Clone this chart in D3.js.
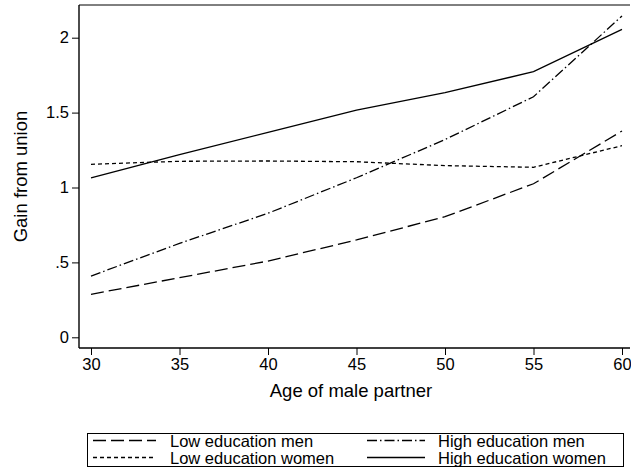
<!DOCTYPE html>
<html><head><meta charset="utf-8">
<script src="https://cdn.jsdelivr.net/npm/d3@7"></script>
<style>body{margin:0;background:#fff;} text{font-family:"Liberation Sans",Arial,sans-serif;fill:#000;}</style>
</head><body>
<svg id="c" width="631" height="470"></svg>
<script>
const ages = [30, 35, 40, 45, 50, 55, 60];
const lowMen = [0.287, 0.398, 0.509, 0.650, 0.805, 1.025, 1.377];
const highMen = [0.409, 0.627, 0.828, 1.065, 1.32, 1.606, 2.145];
const lowWomen = [1.155, 1.175, 1.177, 1.172, 1.146, 1.135, 1.279];
const highWomen = [1.065, 1.22, 1.368, 1.517, 1.633, 1.773, 2.056];
const xTicks = [30, 35, 40, 45, 50, 55, 60];
const yTicks = [0, 0.5, 1, 1.5, 2];
const yTickLabels = ["0", ".5", "1", "1.5", "2"];
const seriesNames = ["Low education men", "High education men", "Low education women", "High education women"];

const svg = d3.select("#c");
const L = 79, R = 630, T = 5, B = 348;
const x = d3.scaleLinear().domain([30, 60]).range([91, 622]);
const y = d3.scaleLinear().domain([0, 2]).range([337.3, 37.7]);

const series = [
  {name: seriesNames[0], v: lowMen, dash: "13,5"},
  {name: seriesNames[1], v: highMen, dash: "10,3,1.5,3"},
  {name: seriesNames[2], v: lowWomen, dash: "4,3"},
  {name: seriesNames[3], v: highWomen, dash: null}
];

// frame top line
svg.append("line").attr("x1", L).attr("x2", R).attr("y1", T).attr("y2", T)
  .attr("stroke", "#000").attr("stroke-width", 1);

const xa = svg.append("g").attr("transform", `translate(0,${B})`)
  .call(d3.axisBottom(x).tickValues(xTicks).tickSize(7).tickPadding(3).tickSizeOuter(0));
xa.select(".domain").attr("d", `M${L},0H${R}`);
const ya = svg.append("g").attr("transform", `translate(${L},0)`)
  .call(d3.axisLeft(y).tickValues(yTicks).tickFormat((d,i)=>yTickLabels[i]).tickSize(7).tickPadding(3).tickSizeOuter(0));
ya.select(".domain").attr("d", `M0,${T}V${B}`);
[xa, ya].forEach(a => a.attr("font-size", 16.5).attr("font-family", "Liberation Sans, Arial, sans-serif"));
svg.selectAll(".tick text").attr("fill", "#000");
svg.selectAll(".domain").attr("stroke-width", 1.4);

const line = d3.line().x((d,i)=>x(ages[i])).y(d=>y(d));
series.forEach(s => {
  svg.append("path").datum(s.v).attr("d", line).attr("fill", "none")
    .attr("stroke", "#000").attr("stroke-width", 1.3)
    .attr("stroke-dasharray", s.dash);
});

svg.append("text").attr("x", 351).attr("y", 397).attr("text-anchor", "middle")
  .attr("font-size", 18.5).text("Age of male partner");
svg.append("text").attr("transform", `translate(27,${(T+B)/2}) rotate(-90)`).attr("text-anchor", "middle")
  .attr("font-size", 18.5).text("Gain from union");

// legend
svg.append("rect").attr("x", 87.5).attr("y", 433.5).attr("width", 536).attr("height", 33)
  .attr("fill", "#fff").attr("stroke", "#000").attr("stroke-width", 1);
const pos = [[93, 440.5], [367, 440.5], [93, 457.5], [367, 457.5]];
series.forEach((s, i) => {
  const [px, py] = pos[i];
  const len = i % 2 === 0 ? 63 : 58;
  svg.append("line").attr("x1", px).attr("x2", px + len).attr("y1", py).attr("y2", py)
    .attr("stroke", "#000").attr("stroke-width", 1.3).attr("stroke-dasharray", s.dash);
  svg.append("text").attr("x", i % 2 === 0 ? 170 : 438).attr("y", py + 6)
    .attr("font-size", 16.5).text(s.name);
});
</script>
</body></html>
